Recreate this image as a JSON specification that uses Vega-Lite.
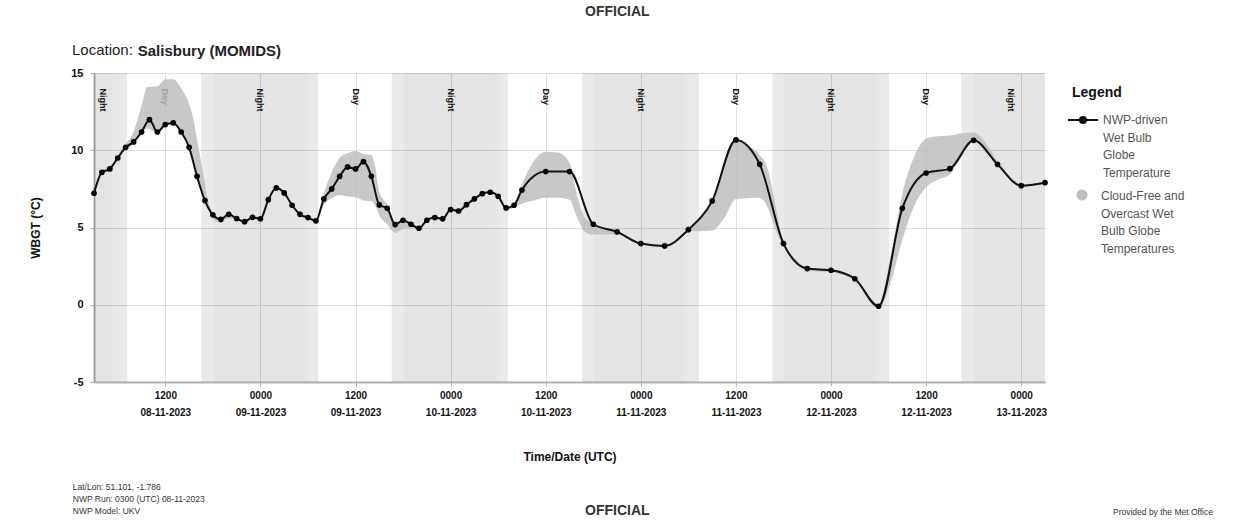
{
  "$schema": "https://vega.github.io/schema/vega-lite/v6.json",
  "padding": {"left": 29, "top": 5, "right": 0, "bottom": 0},
  "background": "white",
  "config": {
    "font": "Liberation Sans",
    "view": {"stroke": null},
    "concat": {"spacing": 0},
    "style": {"guide-label": {"lineHeight": 17.5}},
    "axis": {
      "gridColor": "#dedede",
      "domainColor": "#b0b0b0",
      "domainWidth": 2,
      "tickColor": "#b0b0b0",
      "tickSize": 4,
      "labelColor": "#111111",
      "labelFontWeight": "bold",
      "titleFontWeight": "bold",
      "titleColor": "#111111"
    },
    "title": {"color": "#222222", "font": "Liberation Sans"}
  },
  "datasets": {
    "wb": [
      {"t": "2023-11-08T03:00Z", "v": 7.21}, {"t": "2023-11-08T04:00Z", "v": 8.57}, {"t": "2023-11-08T05:00Z", "v": 8.79},
      {"t": "2023-11-08T06:00Z", "v": 9.5}, {"t": "2023-11-08T07:00Z", "v": 10.19}, {"t": "2023-11-08T08:00Z", "v": 10.54},
      {"t": "2023-11-08T09:00Z", "v": 11.18}, {"t": "2023-11-08T10:00Z", "v": 11.98}, {"t": "2023-11-08T11:00Z", "v": 11.18},
      {"t": "2023-11-08T12:00Z", "v": 11.66}, {"t": "2023-11-08T13:00Z", "v": 11.77}, {"t": "2023-11-08T14:00Z", "v": 11.18},
      {"t": "2023-11-08T15:00Z", "v": 10.19}, {"t": "2023-11-08T16:00Z", "v": 8.31}, {"t": "2023-11-08T17:00Z", "v": 6.74},
      {"t": "2023-11-08T18:00Z", "v": 5.82}, {"t": "2023-11-08T19:00Z", "v": 5.53}, {"t": "2023-11-08T20:00Z", "v": 5.85},
      {"t": "2023-11-08T21:00Z", "v": 5.58}, {"t": "2023-11-08T22:00Z", "v": 5.38}, {"t": "2023-11-08T23:00Z", "v": 5.66},
      {"t": "2023-11-09T00:00Z", "v": 5.56}, {"t": "2023-11-09T01:00Z", "v": 6.8}, {"t": "2023-11-09T02:00Z", "v": 7.56},
      {"t": "2023-11-09T03:00Z", "v": 7.24}, {"t": "2023-11-09T04:00Z", "v": 6.44}, {"t": "2023-11-09T05:00Z", "v": 5.85},
      {"t": "2023-11-09T06:00Z", "v": 5.64}, {"t": "2023-11-09T07:00Z", "v": 5.43}, {"t": "2023-11-09T08:00Z", "v": 6.85},
      {"t": "2023-11-09T09:00Z", "v": 7.5}, {"t": "2023-11-09T10:00Z", "v": 8.31}, {"t": "2023-11-09T11:00Z", "v": 8.92},
      {"t": "2023-11-09T12:00Z", "v": 8.79}, {"t": "2023-11-09T13:00Z", "v": 9.26}, {"t": "2023-11-09T14:00Z", "v": 8.31},
      {"t": "2023-11-09T15:00Z", "v": 6.46}, {"t": "2023-11-09T16:00Z", "v": 6.24}, {"t": "2023-11-09T17:00Z", "v": 5.19},
      {"t": "2023-11-09T18:00Z", "v": 5.47}, {"t": "2023-11-09T19:00Z", "v": 5.21}, {"t": "2023-11-09T20:00Z", "v": 4.95},
      {"t": "2023-11-09T21:00Z", "v": 5.47}, {"t": "2023-11-09T22:00Z", "v": 5.64}, {"t": "2023-11-09T23:00Z", "v": 5.56},
      {"t": "2023-11-10T00:00Z", "v": 6.16}, {"t": "2023-11-10T01:00Z", "v": 6.07}, {"t": "2023-11-10T02:00Z", "v": 6.48},
      {"t": "2023-11-10T03:00Z", "v": 6.85}, {"t": "2023-11-10T04:00Z", "v": 7.19}, {"t": "2023-11-10T05:00Z", "v": 7.28},
      {"t": "2023-11-10T06:00Z", "v": 7.02}, {"t": "2023-11-10T07:00Z", "v": 6.27}, {"t": "2023-11-10T08:00Z", "v": 6.44},
      {"t": "2023-11-10T09:00Z", "v": 7.43}, {"t": "2023-11-10T12:00Z", "v": 8.62}, {"t": "2023-11-10T15:00Z", "v": 8.62},
      {"t": "2023-11-10T18:00Z", "v": 5.21}, {"t": "2023-11-10T21:00Z", "v": 4.72}, {"t": "2023-11-11T00:00Z", "v": 3.96},
      {"t": "2023-11-11T03:00Z", "v": 3.81}, {"t": "2023-11-11T06:00Z", "v": 4.86}, {"t": "2023-11-11T09:00Z", "v": 6.72},
      {"t": "2023-11-11T12:00Z", "v": 10.67}, {"t": "2023-11-11T15:00Z", "v": 9.09}, {"t": "2023-11-11T18:00Z", "v": 3.96},
      {"t": "2023-11-11T21:00Z", "v": 2.34}, {"t": "2023-11-12T00:00Z", "v": 2.23}, {"t": "2023-11-12T03:00Z", "v": 1.68},
      {"t": "2023-11-12T06:00Z", "v": -0.1}, {"t": "2023-11-12T09:00Z", "v": 6.24}, {"t": "2023-11-12T12:00Z", "v": 8.53},
      {"t": "2023-11-12T15:00Z", "v": 8.81}, {"t": "2023-11-12T18:00Z", "v": 10.64}, {"t": "2023-11-12T21:00Z", "v": 9.09},
      {"t": "2023-11-13T00:00Z", "v": 7.71}, {"t": "2023-11-13T03:00Z", "v": 7.9}
    ],
    "cf": [
      {"t": "2023-11-08T03:00Z", "lo": 7.15, "hi": 7.3}, {"t": "2023-11-08T04:00Z", "lo": 8.45, "hi": 8.7},
      {"t": "2023-11-08T05:00Z", "lo": 8.7, "hi": 8.95}, {"t": "2023-11-08T06:00Z", "lo": 9.4, "hi": 9.7},
      {"t": "2023-11-08T07:00Z", "lo": 10.05, "hi": 10.4}, {"t": "2023-11-08T08:00Z", "lo": 10.4, "hi": 11.2},
      {"t": "2023-11-08T08:30Z", "lo": 10.8, "hi": 12.0}, {"t": "2023-11-08T09:00Z", "lo": 11.1, "hi": 12.9},
      {"t": "2023-11-08T09:45Z", "lo": 11.4, "hi": 14.1}, {"t": "2023-11-08T11:00Z", "lo": 11.1, "hi": 14.15},
      {"t": "2023-11-08T12:00Z", "lo": 11.6, "hi": 14.6}, {"t": "2023-11-08T13:00Z", "lo": 11.7, "hi": 14.6},
      {"t": "2023-11-08T14:00Z", "lo": 11.1, "hi": 14.0}, {"t": "2023-11-08T15:00Z", "lo": 10.1, "hi": 13.0},
      {"t": "2023-11-08T15:30Z", "lo": 9.3, "hi": 12.1}, {"t": "2023-11-08T16:00Z", "lo": 8.2, "hi": 10.7},
      {"t": "2023-11-08T16:45Z", "lo": 7.0, "hi": 8.6}, {"t": "2023-11-08T17:20Z", "lo": 6.3, "hi": 6.9},
      {"t": "2023-11-08T18:00Z", "lo": 5.6, "hi": 5.95}, {"t": "2023-11-08T19:00Z", "lo": 5.3, "hi": 5.6},
      {"t": "2023-11-08T20:00Z", "lo": 5.6, "hi": 5.9}, {"t": "2023-11-08T21:00Z", "lo": 5.45, "hi": 5.65},
      {"t": "2023-11-08T22:00Z", "lo": 5.25, "hi": 5.45}, {"t": "2023-11-08T23:00Z", "lo": 5.55, "hi": 5.7},
      {"t": "2023-11-09T00:00Z", "lo": 5.45, "hi": 5.6}, {"t": "2023-11-09T01:00Z", "lo": 6.7, "hi": 6.85},
      {"t": "2023-11-09T02:00Z", "lo": 7.45, "hi": 7.6}, {"t": "2023-11-09T03:00Z", "lo": 7.15, "hi": 7.3},
      {"t": "2023-11-09T04:00Z", "lo": 6.35, "hi": 6.5}, {"t": "2023-11-09T05:00Z", "lo": 5.75, "hi": 5.9},
      {"t": "2023-11-09T06:00Z", "lo": 5.55, "hi": 5.7}, {"t": "2023-11-09T07:00Z", "lo": 5.3, "hi": 5.5},
      {"t": "2023-11-09T08:00Z", "lo": 6.45, "hi": 7.2}, {"t": "2023-11-09T09:00Z", "lo": 6.9, "hi": 8.6},
      {"t": "2023-11-09T10:00Z", "lo": 7.1, "hi": 9.5}, {"t": "2023-11-09T11:00Z", "lo": 7.0, "hi": 9.8},
      {"t": "2023-11-09T12:00Z", "lo": 6.95, "hi": 9.95}, {"t": "2023-11-09T13:00Z", "lo": 6.75, "hi": 9.75},
      {"t": "2023-11-09T14:00Z", "lo": 6.7, "hi": 9.7}, {"t": "2023-11-09T14:30Z", "lo": 6.4, "hi": 8.9},
      {"t": "2023-11-09T15:00Z", "lo": 5.8, "hi": 7.3}, {"t": "2023-11-09T16:00Z", "lo": 5.2, "hi": 6.5},
      {"t": "2023-11-09T17:00Z", "lo": 4.65, "hi": 5.35}, {"t": "2023-11-09T18:00Z", "lo": 4.9, "hi": 5.55},
      {"t": "2023-11-09T19:00Z", "lo": 5.0, "hi": 5.35}, {"t": "2023-11-09T20:00Z", "lo": 4.8, "hi": 5.05},
      {"t": "2023-11-09T21:00Z", "lo": 5.35, "hi": 5.55}, {"t": "2023-11-09T22:00Z", "lo": 5.55, "hi": 5.7},
      {"t": "2023-11-09T23:00Z", "lo": 5.45, "hi": 5.65}, {"t": "2023-11-10T00:00Z", "lo": 6.05, "hi": 6.2},
      {"t": "2023-11-10T01:00Z", "lo": 5.95, "hi": 6.15}, {"t": "2023-11-10T02:00Z", "lo": 6.35, "hi": 6.55},
      {"t": "2023-11-10T03:00Z", "lo": 6.75, "hi": 6.9}, {"t": "2023-11-10T04:00Z", "lo": 7.1, "hi": 7.25},
      {"t": "2023-11-10T05:00Z", "lo": 7.2, "hi": 7.35}, {"t": "2023-11-10T06:00Z", "lo": 6.9, "hi": 7.1},
      {"t": "2023-11-10T07:00Z", "lo": 6.15, "hi": 6.35}, {"t": "2023-11-10T08:00Z", "lo": 6.3, "hi": 6.6},
      {"t": "2023-11-10T09:00Z", "lo": 6.55, "hi": 7.8}, {"t": "2023-11-10T10:30Z", "lo": 6.75, "hi": 9.3},
      {"t": "2023-11-10T12:00Z", "lo": 6.92, "hi": 9.9}, {"t": "2023-11-10T13:30Z", "lo": 6.92, "hi": 9.85},
      {"t": "2023-11-10T15:00Z", "lo": 6.8, "hi": 9.2}, {"t": "2023-11-10T16:00Z", "lo": 5.6, "hi": 7.0},
      {"t": "2023-11-10T17:00Z", "lo": 4.7, "hi": 5.6}, {"t": "2023-11-10T18:00Z", "lo": 4.55, "hi": 5.3},
      {"t": "2023-11-10T19:30Z", "lo": 4.55, "hi": 4.95}, {"t": "2023-11-10T21:00Z", "lo": 4.55, "hi": 4.8},
      {"t": "2023-11-11T00:00Z", "lo": 3.9, "hi": 4.0}, {"t": "2023-11-11T03:00Z", "lo": 3.75, "hi": 3.85},
      {"t": "2023-11-11T06:00Z", "lo": 4.75, "hi": 4.95}, {"t": "2023-11-11T07:30Z", "lo": 4.75, "hi": 5.7},
      {"t": "2023-11-11T09:00Z", "lo": 4.8, "hi": 6.8}, {"t": "2023-11-11T10:30Z", "lo": 5.6, "hi": 9.2},
      {"t": "2023-11-11T12:00Z", "lo": 6.85, "hi": 10.7}, {"t": "2023-11-11T13:30Z", "lo": 6.9, "hi": 10.3},
      {"t": "2023-11-11T15:00Z", "lo": 6.92, "hi": 9.7}, {"t": "2023-11-11T16:00Z", "lo": 6.3, "hi": 8.8},
      {"t": "2023-11-11T17:00Z", "lo": 4.86, "hi": 6.4}, {"t": "2023-11-11T18:00Z", "lo": 3.8, "hi": 4.0},
      {"t": "2023-11-11T19:30Z", "lo": 2.65, "hi": 2.95}, {"t": "2023-11-11T21:00Z", "lo": 2.2, "hi": 2.4},
      {"t": "2023-11-12T00:00Z", "lo": 2.1, "hi": 2.3}, {"t": "2023-11-12T03:00Z", "lo": 1.55, "hi": 1.75},
      {"t": "2023-11-12T06:00Z", "lo": -0.25, "hi": 0.05}, {"t": "2023-11-12T07:30Z", "lo": 1.4, "hi": 3.1},
      {"t": "2023-11-12T09:00Z", "lo": 4.2, "hi": 7.2}, {"t": "2023-11-12T10:30Z", "lo": 6.4, "hi": 9.6},
      {"t": "2023-11-12T12:00Z", "lo": 7.6, "hi": 10.75}, {"t": "2023-11-12T13:30Z", "lo": 8.1, "hi": 10.9},
      {"t": "2023-11-12T15:00Z", "lo": 8.45, "hi": 10.95}, {"t": "2023-11-12T16:30Z", "lo": 9.6, "hi": 11.1},
      {"t": "2023-11-12T18:00Z", "lo": 10.55, "hi": 11.15}, {"t": "2023-11-12T19:30Z", "lo": 9.9, "hi": 10.5},
      {"t": "2023-11-12T21:00Z", "lo": 9.0, "hi": 9.3}, {"t": "2023-11-13T00:00Z", "lo": 7.65, "hi": 7.8},
      {"t": "2023-11-13T03:00Z", "lo": 7.85, "hi": 7.95}
    ],
    "bg": [
      {"t": "2023-11-08T03:00Z", "t2": "2023-11-08T05:20Z", "k": "night"},
      {"t": "2023-11-08T05:20Z", "t2": "2023-11-08T06:10Z", "k": "mid"},
      {"t": "2023-11-08T06:10Z", "t2": "2023-11-08T07:12Z", "k": "twi"},
      {"t": "2023-11-08T16:32Z", "t2": "2023-11-08T18:04Z", "k": "twi"},
      {"t": "2023-11-08T18:04Z", "t2": "2023-11-09T05:35Z", "k": "night"},
      {"t": "2023-11-09T05:35Z", "t2": "2023-11-09T06:12Z", "k": "mid"},
      {"t": "2023-11-09T06:12Z", "t2": "2023-11-09T07:16Z", "k": "twi"},
      {"t": "2023-11-09T16:34Z", "t2": "2023-11-09T18:04Z", "k": "twi"},
      {"t": "2023-11-09T18:04Z", "t2": "2023-11-10T05:35Z", "k": "night"},
      {"t": "2023-11-10T05:35Z", "t2": "2023-11-10T06:12Z", "k": "mid"},
      {"t": "2023-11-10T06:12Z", "t2": "2023-11-10T07:15Z", "k": "twi"},
      {"t": "2023-11-10T16:35Z", "t2": "2023-11-10T18:04Z", "k": "twi"},
      {"t": "2023-11-10T18:04Z", "t2": "2023-11-11T05:28Z", "k": "night"},
      {"t": "2023-11-11T05:28Z", "t2": "2023-11-11T06:05Z", "k": "mid"},
      {"t": "2023-11-11T06:05Z", "t2": "2023-11-11T07:20Z", "k": "twi"},
      {"t": "2023-11-11T16:36Z", "t2": "2023-11-11T18:04Z", "k": "twi"},
      {"t": "2023-11-11T18:04Z", "t2": "2023-11-12T05:38Z", "k": "night"},
      {"t": "2023-11-12T05:38Z", "t2": "2023-11-12T06:16Z", "k": "mid"},
      {"t": "2023-11-12T06:16Z", "t2": "2023-11-12T07:20Z", "k": "twi"},
      {"t": "2023-11-12T16:26Z", "t2": "2023-11-12T18:05Z", "k": "twi"},
      {"t": "2023-11-12T18:05Z", "t2": "2023-11-13T03:00Z", "k": "night"}
    ],
    "lab": [
      {"t": "2023-11-08T04:10Z", "l": "Night"}, {"t": "2023-11-08T12:00Z", "l": "Day"},
      {"t": "2023-11-09T00:00Z", "l": "Night"}, {"t": "2023-11-09T12:00Z", "l": "Day"},
      {"t": "2023-11-10T00:00Z", "l": "Night"}, {"t": "2023-11-10T12:00Z", "l": "Day"},
      {"t": "2023-11-11T00:00Z", "l": "Night"}, {"t": "2023-11-11T12:00Z", "l": "Day"},
      {"t": "2023-11-12T00:00Z", "l": "Night"}, {"t": "2023-11-12T12:00Z", "l": "Day"},
      {"t": "2023-11-12T22:40Z", "l": "Night"}
    ]
  },
  "title": {"text": "OFFICIAL", "anchor": "middle", "fontSize": 14, "fontWeight": "bold", "color": "#333333", "offset": 24, "dx": -4},
  "resolve": {"scale": {"color": "independent", "fill": "independent", "opacity": "independent"}},
  "vconcat": [{
    "title": {"text": "OFFICIAL", "orient": "bottom", "anchor": "middle", "fontSize": 14, "fontWeight": "bold", "color": "#333333", "dx": -4, "dy": -12, "offset": 0},
    "resolve": {"scale": {"color": "independent", "fill": "independent", "opacity": "independent"}},
    "vconcat": [{
      "title": {"text": "Provided by the Met Office", "orient": "bottom", "anchor": "end", "fontSize": 8.5, "fontWeight": "normal", "color": "#333333", "dx": 28, "dy": -8, "offset": 0},
      "resolve": {"scale": {"color": "independent", "fill": "independent", "opacity": "independent"}},
      "vconcat": [{
        "title": {"text": ["Lat/Lon: 51.101, -1.786", "NWP Run: 0300 (UTC) 08-11-2023", "NWP Model: UKV"], "orient": "bottom", "anchor": "start", "fontSize": 8.5, "fontWeight": "normal", "color": "#333333", "lineHeight": 12, "dx": 43, "offset": 21},
        "resolve": {"scale": {"color": "independent", "fill": "independent", "opacity": "independent"}},
        "vconcat": [{
          "title": {"text": "Salisbury (MOMIDS)", "anchor": "start", "fontSize": 15, "fontWeight": "bold", "color": "#222222", "dx": 108, "dy": 16, "offset": 0},
          "resolve": {"scale": {"color": "independent", "fill": "independent", "opacity": "independent"}},
          "vconcat": [{
            "title": {"text": "Location:", "anchor": "start", "frame": "group", "fontSize": 15, "fontWeight": "normal", "color": "#222222", "dx": -22, "offset": 9},
            "width": 951,
            "height": 309,
            "layer": [
              {
                "data": {"name": "bg"},
                "mark": {"type": "rect", "color": "black"},
                "encoding": {
                  "x": {
                    "field": "t", "type": "temporal",
                    "scale": {"type": "utc", "domain": [{"year": 2023, "month": 11, "date": 8, "hours": 3, "utc": true}, {"year": 2023, "month": 11, "date": 13, "hours": 3, "utc": true}]},
                    "axis": {
                      "title": "Time/Date (UTC)", "titleFontSize": 12, "titlePadding": 34,
                      "values": [
                        {"year": 2023, "month": 11, "date": 8, "hours": 12, "utc": true},
                        {"year": 2023, "month": 11, "date": 9, "hours": 0, "utc": true},
                        {"year": 2023, "month": 11, "date": 9, "hours": 12, "utc": true},
                        {"year": 2023, "month": 11, "date": 10, "hours": 0, "utc": true},
                        {"year": 2023, "month": 11, "date": 10, "hours": 12, "utc": true},
                        {"year": 2023, "month": 11, "date": 11, "hours": 0, "utc": true},
                        {"year": 2023, "month": 11, "date": 11, "hours": 12, "utc": true},
                        {"year": 2023, "month": 11, "date": 12, "hours": 0, "utc": true},
                        {"year": 2023, "month": 11, "date": 12, "hours": 12, "utc": true},
                        {"year": 2023, "month": 11, "date": 13, "hours": 0, "utc": true}
                      ],
                      "labelExpr": "[utcFormat(datum.value, '%H%M'), utcFormat(datum.value, '%d-%m-%Y')]",
                      "labelFontSize": 10, "labelLineHeight": 17, "labelPadding": 4, "labelBaseline": "top",
                      "grid": true
                    }
                  },
                  "x2": {"field": "t2"},
                  "opacity": {"field": "k", "type": "nominal", "scale": {"domain": ["night", "mid", "twi"], "range": [0.105, 0.082, 0.05]}, "legend": null}
                }
              },
              {
                "data": {"name": "lab"},
                "mark": {"type": "text", "angle": 90, "align": "left", "baseline": "middle", "fontSize": 9, "fontWeight": "bold"},
                "encoding": {
                  "x": {"field": "t", "type": "temporal"},
                  "y": {"datum": 14, "type": "quantitative", "scale": {"domain": [-5, 15], "nice": false}},
                  "text": {"field": "l"},
                  "color": {
                    "datum": "NWP-driven Wet Bulb Globe Temperature",
                    "scale": {"range": ["#111111"]},
                    "legend": {
                      "orient": "none", "legendX": 978, "legendY": 13,
                      "title": "Legend", "titleFontSize": 14, "titleFontWeight": "bold", "titleColor": "#111111", "titlePadding": 4,
                      "labelExpr": "['NWP-driven', 'Wet Bulb', 'Globe', 'Temperature']",
                      "labelFontSize": 12, "labelColor": "#555555", "labelBaseline": "top", "labelOffset": 9,
                      "symbolType": "M-1.5,0.5H1.5M0.3,0.5A0.3,0.3 0 1,1 -0.3,0.5A0.3,0.3 0 1,1 0.3,0.5Z",
                      "symbolSize": 400, "symbolStrokeWidth": 2, "symbolFillColor": "black", "symbolStrokeColor": "black",
                      "padding": 0
                    }
                  }
                }
              },
              {
                "data": {"name": "cf"},
                "mark": {"type": "area", "interpolate": "monotone", "opacity": 0.84},
                "encoding": {
                  "x": {"field": "t", "type": "temporal"},
                  "y": {"field": "lo", "type": "quantitative", "scale": {"domain": [-5, 15], "nice": false}},
                  "y2": {"field": "hi"},
                  "fill": {
                    "datum": "Cloud-Free and Overcast Wet Bulb Globe Temperatures",
                    "scale": {"range": ["#bebebe"]},
                    "legend": {
                      "orient": "none", "legendX": 978, "legendY": 108,
                      "title": null,
                      "labelExpr": "['Cloud-Free and', 'Overcast Wet', 'Bulb Globe', 'Temperatures']",
                      "labelFontSize": 12, "labelColor": "#555555", "labelBaseline": "top", "labelOffset": 9,
                      "symbolType": "M0.55,0.4A0.55,0.55 0 1,1 -0.55,0.4A0.55,0.55 0 1,1 0.55,0.4Z",
                      "symbolSize": 400, "symbolStrokeWidth": 0, "symbolOpacity": 1, "symbolFillColor": "#c2c2c2",
                      "padding": 0
                    }
                  }
                }
              },
              {
                "data": {"name": "wb"},
                "mark": {"type": "line", "interpolate": "monotone", "strokeWidth": 2},
                "encoding": {
                  "x": {"field": "t", "type": "temporal"},
                  "y": {
                    "field": "v", "type": "quantitative",
                    "scale": {"domain": [-5, 15], "nice": false},
                    "axis": {"title": "WBGT (°C)", "titleFontSize": 12, "titlePadding": 28, "values": [-5, 0, 5, 10, 15], "labelExpr": "'' + datum.value", "labelFontSize": 11, "labelPadding": 7, "grid": true}
                  },
                  "color": {"datum": "NWP-driven Wet Bulb Globe Temperature"}
                }
              },
              {
                "data": {"name": "wb"},
                "mark": {"type": "circle", "size": 32, "color": "black", "opacity": 1},
                "encoding": {
                  "x": {"field": "t", "type": "temporal"},
                  "y": {"field": "v", "type": "quantitative", "scale": {"domain": [-5, 15], "nice": false}}
                }
              }
            ]
          }]
        }]
      }]
    }]
  }]
}
